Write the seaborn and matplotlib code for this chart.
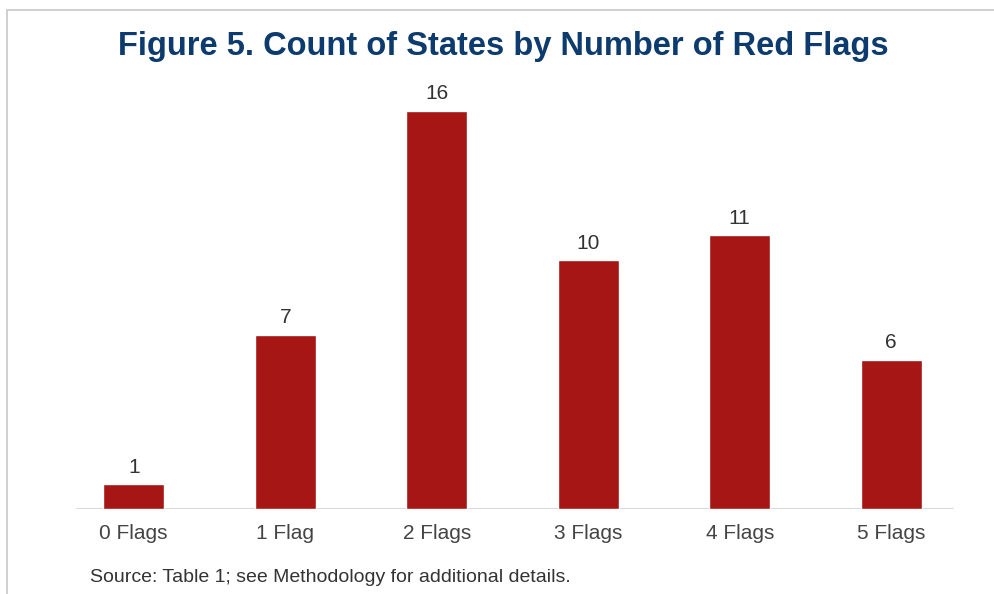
import matplotlib
matplotlib.use("Agg")
import matplotlib.pyplot as plt
from matplotlib.lines import Line2D
import pandas as pd
import seaborn as sns

categories = ["0 Flags", "1 Flag", "2 Flags", "3 Flags", "4 Flags", "5 Flags"]
counts = [1, 7, 16, 10, 11, 6]
title = "Figure 5. Count of States by Number of Red Flags"
source = "Source: Table 1; see Methodology for additional details."

df = pd.DataFrame({"flags": categories, "states": counts})

sns.set_theme(style="white")
plt.rcParams["font.family"] = ["Liberation Sans", "DejaVu Sans"]

W, H = 995, 594
fig = plt.figure(figsize=(W / 100, H / 100), dpi=100)
ax = fig.add_axes([58 / W, (H - 509) / H, 909 / W, 423 / H])

sns.barplot(data=df, x="flags", y="states", color="#a51615", saturation=1,
            width=0.4, ax=ax)
ax.set_xlim(-0.5, 5.5)
ax.set_ylim(0, 17)
for s in ax.spines.values():
    s.set_visible(False)
ax.set_yticks([])
ax.set_xlabel("")
ax.set_ylabel("")
ax.tick_params(axis="x", length=0, labelsize=15, labelcolor="#444444", pad=11)
ax.axhline(0, xmin=19 / 909, xmax=895 / 909, color="#d9d9d9", lw=1.5, zorder=0)

for i, v in enumerate(counts):
    ax.text(i, v + 0.3, str(v), ha="center", va="bottom", fontsize=15, color="#333333")

fig.text(503 / W, 1 - 47 / H, title, ha="center", va="center", fontsize=23.5,
         fontweight="bold", color="#0d3b6e")
fig.text(90 / W, 1 - 577 / H, source, ha="left", va="center", fontsize=14, color="#333333")

# frame lines
fig.add_artist(Line2D([7 / W, 1], [1 - 10 / H, 1 - 10 / H], color="#c8c8c8", lw=1.2))
fig.add_artist(Line2D([7 / W, 7 / W], [0, 1 - 10 / H], color="#c8c8c8", lw=1.2))

fig.savefig("out.png", dpi=100)
